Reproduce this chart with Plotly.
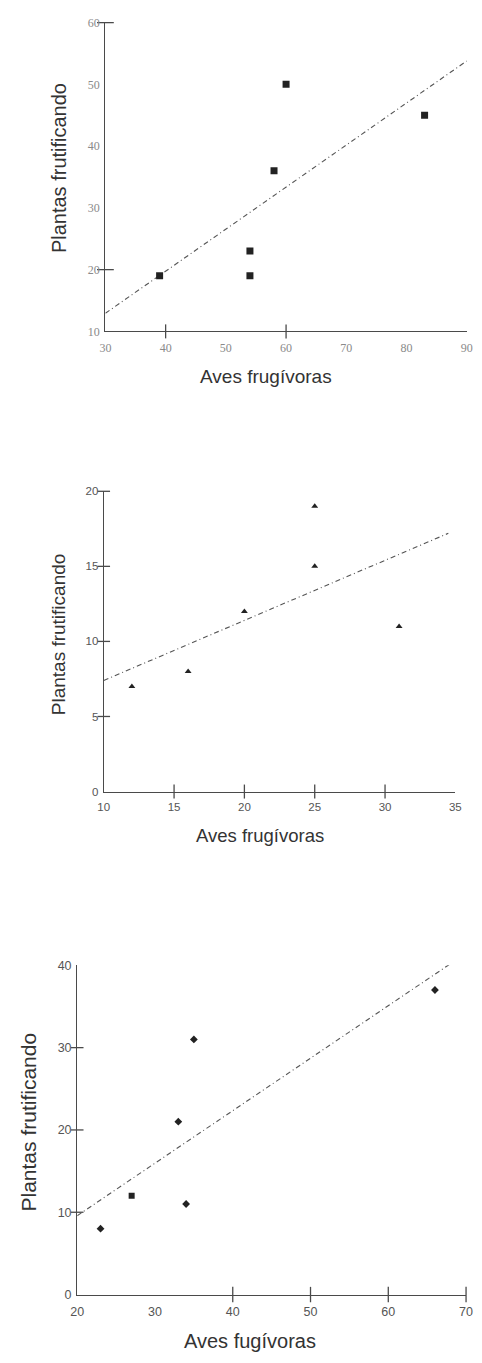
import numpy as np
import plotly.graph_objects as go

# ---------------- data ----------------
p1_x = [39, 54, 54, 58, 60, 83]
p1_y = [19, 23, 19, 36, 50, 45]
p2_x = [12, 16, 20, 25, 25, 31]
p2_y = [7, 8, 12, 19, 15, 11]
p3_x = [23, 27, 33, 35, 34, 66]
p3_y = [8, 12, 21, 31, 11, 37]
p3_symbols = ["diamond", "square", "diamond", "diamond", "diamond", "diamond"]

p1_xticks = [30, 40, 50, 60, 70, 80, 90]
p1_yticks = [10, 20, 30, 40, 50, 60]
p2_xticks = [10, 15, 20, 25, 30, 35]
p2_yticks = [0, 5, 10, 15, 20]
p3_xticks = [20, 30, 40, 50, 60, 70]
p3_yticks = [0, 10, 20, 30, 40]

# tick marks visible in the reference
p1_xmarks = [40, 60]
p1_ymarks = [20, 60]
p2_xmarks = [15, 20, 25, 30]
p2_ymarks = [5, 10, 15, 20]
p3_xmarks = [40, 50, 60, 70]
p3_ymarks = [10, 20, 30]

# extent of the fitted trend lines
p1_trend = [30, 90]
p2_trend = [10, 34.5]
p3_trend = [20, 67.8]

x_titles = ["Aves frugívoras", "Aves frugívoras", "Aves fugívoras"]
y_title = "Plantas frutificando"

# page is 482x1363; the browser adds an 8px body margin on each side
PAGE_W, PAGE_H, PAD = 482, 1363, 8
W, H = PAGE_W - 2 * PAD, PAGE_H - 2 * PAD


def fx(px):
    return (px - PAD) / W


def fy(py):
    return 1 - (py - PAD) / H


# pixel geometry of each panel on the page: (left, right, top, bottom)
panels = [
    dict(x=p1_x, y=p1_y, sym="square", msize=7, xr=[30, 90], yr=[10, 60],
         xt=p1_xticks, yt=p1_yticks, xm=p1_xmarks, ym=p1_ymarks, trend=p1_trend,
         box=(101, 472.7, 15.7, 327.7), xtitle=(266.7, 373, 19), ytitle=(54, 163, 20),
         tfont=dict(family="Liberation Serif", size=12, color="#8a8a8a"),
         xmsize=10, ymsize=12),
    dict(x=p2_x, y=p2_y, sym="triangle-up", msize=6, xr=[10, 35], yr=[0, 20],
         xt=p2_xticks, yt=p2_yticks, xm=p2_xmarks, ym=p2_ymarks, trend=p2_trend,
         box=(99.3, 461, 489.3, 792.7), xtitle=(260, 836.7, 18.5), ytitle=(53, 634, 19),
         tfont=dict(family="Liberation Sans", size=11.5, color="#555555"),
         xmsize=10, ymsize=9),
    dict(x=p3_x, y=p3_y, sym=p3_symbols, msize=6, xr=[20, 70], yr=[0, 40],
         xt=p3_xticks, yt=p3_yticks, xm=p3_xmarks, ym=p3_ymarks, trend=p3_trend,
         box=(72, 472, 968.3, 1301), xtitle=(249.3, 1348, 20), ytitle=(21.5, 1127, 21),
         tfont=dict(family="Liberation Sans", size=12.5, color="#555555"),
         xmsize=11, ymsize=9),
]

fig = go.Figure()
layout = dict(
    width=W, height=H, margin=dict(l=0, r=0, t=0, b=0),
    paper_bgcolor="white", plot_bgcolor="white", showlegend=False,
    annotations=[],
)

axis_color = "#4a4a4a"
for i, p in enumerate(panels, start=1):
    xa = "x" if i == 1 else f"x{i}"
    ya = "y" if i == 1 else f"y{i}"
    l, r, t, b = p["box"]
    layout["xaxis" if i == 1 else f"xaxis{i}"] = dict(
        domain=[fx(l), fx(r)], range=p["xr"], anchor=ya,
        tickvals=p["xt"], ticks="outside", ticklen=5, tickcolor="rgba(0,0,0,0)",
        showline=True, linecolor=axis_color, linewidth=1.3, showgrid=False,
        zeroline=False, tickfont=p["tfont"], fixedrange=True,
    )
    layout["yaxis" if i == 1 else f"yaxis{i}"] = dict(
        domain=[fy(b), fy(t)], range=p["yr"], anchor=xa,
        tickvals=p["yt"], ticks="outside", ticklen=2, tickcolor="rgba(0,0,0,0)",
        showline=True, linecolor=axis_color, linewidth=1.3, showgrid=False,
        zeroline=False, tickfont=p["tfont"], fixedrange=True,
    )

    # trend line (least squares fit of the panel's points)
    slope, icpt = np.polyfit(p["x"], p["y"], 1)
    tx = np.array(p["trend"], dtype=float)
    fig.add_trace(go.Scatter(
        x=tx, y=slope * tx + icpt, mode="lines", xaxis=xa, yaxis=ya,
        line=dict(color="#555555", width=1.1, dash="5px,3px,1px,3px"),
        hoverinfo="skip",
    ))
    # points
    fig.add_trace(go.Scatter(
        x=p["x"], y=p["y"], mode="markers", xaxis=xa, yaxis=ya,
        marker=dict(symbol=p["sym"], size=p["msize"], color="#222222",
                    line=dict(width=0)),
    ))
    # crossing tick marks
    fig.add_trace(go.Scatter(
        x=p["xm"], y=[p["yr"][0]] * len(p["xm"]), mode="markers",
        xaxis=xa, yaxis=ya, cliponaxis=False, hoverinfo="skip",
        marker=dict(symbol="line-ns-open", size=p["xmsize"], color=axis_color,
                    line=dict(color=axis_color, width=1.3)),
    ))
    fig.add_trace(go.Scatter(
        x=[p["xr"][0]] * len(p["ym"]), y=p["ym"], mode="markers",
        xaxis=xa, yaxis=ya, cliponaxis=False, hoverinfo="skip",
        marker=dict(symbol="line-ew-open", size=p["ymsize"], color=axis_color,
                    line=dict(color=axis_color, width=1.3)),
    ))

    cx, cy, fs = p["xtitle"]
    layout["annotations"].append(dict(
        text=x_titles[i - 1], x=fx(cx), y=fy(cy), xref="paper", yref="paper",
        xanchor="center", yanchor="middle", showarrow=False,
        font=dict(family="Liberation Sans", size=fs, color="#333333"),
    ))
    cx, cy, fs = p["ytitle"]
    layout["annotations"].append(dict(
        text=y_title, x=fx(cx), y=fy(cy), xref="paper", yref="paper",
        xanchor="center", yanchor="middle", showarrow=False, textangle=-90,
        font=dict(family="Liberation Sans", size=fs, color="#333333"),
    ))

fig.update_layout(**layout)
fig.write_html("out.html")
